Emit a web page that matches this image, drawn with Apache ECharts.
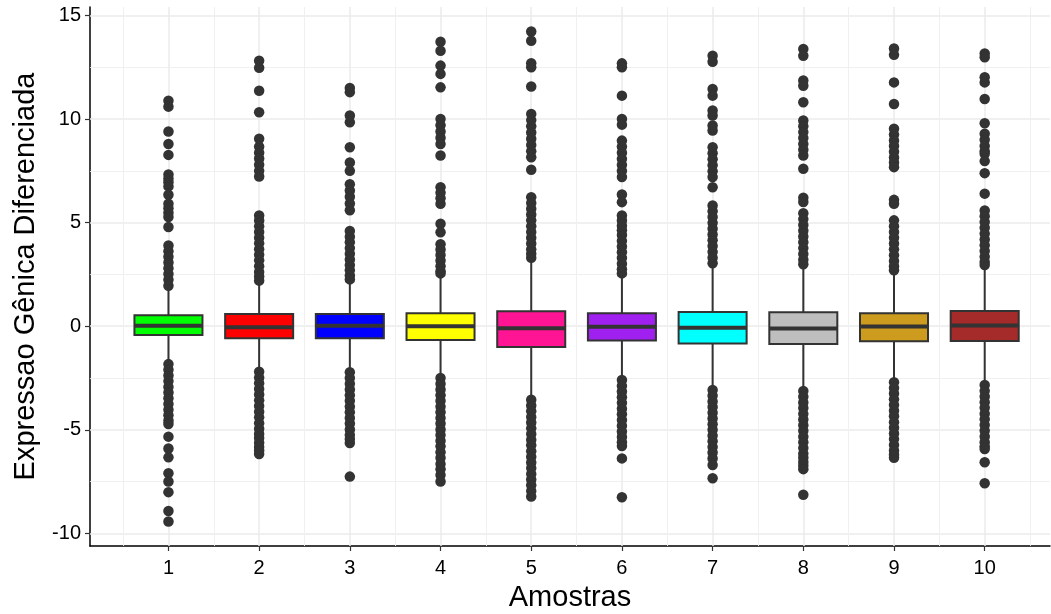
<!DOCTYPE html>
<html>
<head>
<meta charset="utf-8">
<title>Expressao Gênica Diferenciada</title>
<script src="https://cdn.jsdelivr.net/npm/echarts@6/dist/echarts.min.js"></script>
<style>
  html, body { margin: 0; padding: 0; background: #fff; }
  #main { width: 1051px; height: 614px; }
</style>
</head>
<body>
<div id="main"></div>
<script>
// amostras
const categories = ['1', '2', '3', '4', '5', '6', '7', '8', '9', '10']
const boxColors = ['#00FF00', '#FF0000', '#0000FF', '#FFFF00', '#FF1493',
  '#A020F0', '#00FFFF', '#BEBEBE', '#CD9B1D', '#A52A2A']

// estatisticas do boxplot
const lowerWhisker = [-1.75, -2.1, -2.12, -2.4, -3.45, -2.5, -3.0, -3.05, -2.6, -2.75]
const q1 = [-0.42, -0.58, -0.58, -0.67, -1.0, -0.69, -0.83, -0.86, -0.72, -0.71]
const median = [0.02, -0.05, 0.02, 0.0, -0.1, -0.03, -0.08, -0.11, -0.01, 0.03]
const q3 = [0.53, 0.59, 0.59, 0.63, 0.72, 0.63, 0.69, 0.67, 0.63, 0.74]
const upperWhisker = [1.85, 2.1, 2.15, 2.45, 3.2, 2.45, 2.95, 2.9, 2.6, 2.85]

// outliers de cada amostra
const outliers = [
  [10.89, 10.6, 9.4, 8.8, 8.27, 7.33, 7.12, 6.95, 6.75, 6.35, 5.91, 5.7, 5.48, 5.27, 4.79,
    3.9, 3.62, 3.35, 3.08, 2.8, 2.52, 2.24, 1.95,
    -1.83, -2.1, -2.38, -2.65, -2.93, -3.2, -3.48, -3.75, -4.03, -4.3, -4.55, -4.72,
    -5.33, -5.9, -6.33, -7.1, -7.5, -8.01, -8.92, -9.43],
  [12.82, 12.48, 11.37, 10.33, 9.05, 8.67, 8.38, 8.1, 7.8, 7.5, 7.23,
    5.35, 5.1, 4.82, 4.55, 4.27, 4.0, 3.72, 3.45, 3.18, 2.9, 2.62, 2.4, 2.2,
    -2.2, -2.48, -2.75, -3.03, -3.3, -3.58, -3.85, -4.13, -4.4, -4.68, -4.95, -5.2,
    -5.4, -5.62, -5.83, -6.0, -6.17],
  [11.5, 11.3, 10.17, 9.85, 8.64, 7.9, 7.5, 6.85, 6.55, 6.25, 5.92, 5.6,
    4.6, 4.32, 4.05, 3.77, 3.5, 3.22, 2.95, 2.7, 2.45, 2.26,
    -2.22, -2.5, -2.78, -3.05, -3.33, -3.6, -3.88, -4.15, -4.43, -4.7, -4.98, -5.25,
    -5.45, -5.64, -7.26],
  [13.73, 13.3, 12.58, 12.18, 11.53, 10.0, 9.7, 9.4, 9.1, 8.8, 8.24,
    6.71, 6.45, 6.18, 5.91, 4.95, 4.54, 3.96, 3.7, 3.44, 3.17, 2.9, 2.65, 2.55,
    -2.5, -2.78, -3.05, -3.33, -3.6, -3.88, -4.15, -4.43, -4.7, -4.98, -5.25, -5.53,
    -5.8, -6.08, -6.35, -6.65, -6.9, -7.18, -7.5],
  [14.23, 13.78, 12.7, 12.5, 11.57, 10.25, 9.95, 9.65, 9.35, 9.05, 8.75, 8.45, 8.16, 7.55,
    6.23, 5.95, 5.67, 5.39, 5.11, 4.83, 4.55, 4.27, 3.99, 3.71, 3.5, 3.3,
    -3.55, -3.83, -4.1, -4.38, -4.65, -4.93, -5.2, -5.48, -5.75, -6.03, -6.3, -6.58,
    -6.85, -7.13, -7.4, -7.68, -7.95, -8.22],
  [12.69, 12.5, 11.13, 10.0, 9.73, 8.96, 8.67, 8.38, 8.08, 7.79, 7.5, 7.2, 6.36, 5.99,
    5.35, 5.1, 4.85, 4.63, 4.4, 4.12, 3.85, 3.57, 3.3, 3.02, 2.75, 2.55,
    -2.6, -2.88, -3.15, -3.43, -3.7, -3.98, -4.25, -4.53, -4.8, -5.08, -5.35, -5.6,
    -5.78, -6.38, -8.26],
  [13.06, 12.77, 11.45, 11.13, 10.41, 10.17, 9.69, 9.45, 8.64, 8.35, 8.06, 7.77, 7.48, 7.2,
    6.71, 5.83, 5.55, 5.27, 4.99, 4.71, 4.43, 4.15, 3.87, 3.59, 3.31, 3.04,
    -3.08, -3.35, -3.63, -3.9, -4.18, -4.45, -4.73, -5.0, -5.28, -5.55, -5.83, -6.1,
    -6.38, -6.7, -7.34],
  [13.38, 13.06, 11.86, 11.61, 10.81, 9.93, 9.65, 9.37, 9.09, 8.8, 8.52, 8.24, 7.6,
    6.2, 6.0, 5.45, 5.17, 4.89, 4.61, 4.33, 4.05, 3.77, 3.49, 3.21, 2.99,
    -3.13, -3.4, -3.68, -3.95, -4.23, -4.5, -4.78, -5.05, -5.33, -5.6, -5.88, -6.15,
    -6.35, -6.55, -6.72, -6.9, -8.14],
  [13.41, 13.1, 11.77, 10.73, 9.53, 9.25, 8.97, 8.7, 8.42, 8.15, 7.9, 7.68, 6.1, 5.91,
    5.11, 4.83, 4.55, 4.27, 3.99, 3.71, 3.43, 3.15, 2.9, 2.7,
    -2.7, -2.98, -3.25, -3.53, -3.8, -4.08, -4.35, -4.63, -4.9, -5.18, -5.45, -5.73,
    -6.0, -6.2, -6.35],
  [13.17, 12.98, 12.02, 11.77, 10.97, 9.8, 9.29, 9.0, 8.7, 8.45, 8.32, 7.97, 7.39, 6.4,
    5.59, 5.31, 5.03, 4.75, 4.47, 4.19, 3.91, 3.63, 3.35, 3.1, 2.95,
    -2.84, -3.12, -3.39, -3.67, -3.94, -4.22, -4.49, -4.77, -5.04, -5.32, -5.6, -5.8,
    -5.93, -6.57, -7.58]
]

// ticks e linhas de grade
const yTicks = [-10, -5, 0, 5, 10, 15]
const yMinor = [-7.5, -2.5, 2.5, 7.5, 12.5]
const xTicks = [1, 2, 3, 4, 5, 6, 7, 8, 9, 10]
const xMinor = [0.5, 1.5, 2.5, 3.5, 4.5, 5.5, 6.5, 7.5, 8.5, 9.5, 10.5]

const FONT = '"Liberation Sans", Arial, sans-serif'
const BOX_W = 0.75 // largura da caixa, em unidades do eixo x

let chart = echarts.init(document.getElementById('main'), null, {renderer: 'canvas'})

const boxData = categories.map((c, i) => [i + 1, lowerWhisker[i], q1[i], median[i], q3[i], upperWhisker[i]])

let outlierData = []
outliers.forEach((list, i) => {
  list.forEach(v => outlierData.push([i + 1, v]))
})

const gridLines = [
  ...yTicks.map(v => ({yAxis: v, lineStyle: {width: 1.5, color: '#EBEBEB'}})),
  ...yMinor.map(v => ({yAxis: v, lineStyle: {width: 0.9, color: '#EEEEEE'}})),
  ...xTicks.map(v => ({xAxis: v, lineStyle: {width: 1.5, color: '#EBEBEB'}})),
  ...xMinor.map(v => ({xAxis: v, lineStyle: {width: 0.9, color: '#EEEEEE'}}))
]

const renderBox = (params, api) => {
  const x = api.value(0)
  const lo = api.coord([x, api.value(1)])
  const p1 = api.coord([x, api.value(2)])
  const md = api.coord([x, api.value(3)])
  const p3 = api.coord([x, api.value(4)])
  const hi = api.coord([x, api.value(5)])
  const w = api.size([BOX_W, 0])[0]
  const stroke = '#333333'
  return {
    type: 'group',
    children: [
      {type: 'line', shape: {x1: lo[0], y1: lo[1], x2: p1[0], y2: p1[1]}, style: {stroke, lineWidth: 2}},
      {type: 'line', shape: {x1: p3[0], y1: p3[1], x2: hi[0], y2: hi[1]}, style: {stroke, lineWidth: 2}},
      {
        type: 'rect',
        shape: {x: p3[0] - w / 2, y: p3[1], width: w, height: p1[1] - p3[1]},
        style: {fill: boxColors[params.dataIndex], stroke, lineWidth: 2}
      },
      {type: 'line', shape: {x1: md[0] - w / 2, y1: md[1], x2: md[0] + w / 2, y2: md[1]}, style: {stroke, lineWidth: 4}}
    ]
  }
}

const option = {
  animation: false,
  backgroundColor: '#ffffff',
  textStyle: {fontFamily: FONT},
  grid: {left: 90, right: 1, top: 7, bottom: 68, outerBoundsMode: 'none'},
  xAxis: {
    type: 'value',
    min: 0.135,
    max: 10.72,
    name: 'Amostras',
    nameLocation: 'middle',
    nameGap: 37,
    nameTextStyle: {fontSize: 29, color: '#000', fontFamily: FONT},
    axisLine: {show: true, onZero: false, lineStyle: {color: '#000', width: 1.5}},
    axisTick: {show: true, length: 5, customValues: xTicks, lineStyle: {color: '#333', width: 1.2}},
    axisLabel: {
      customValues: xTicks,
      formatter: v => categories[Math.round(v) - 1],
      fontSize: 20,
      color: '#000',
      margin: 12,
      fontFamily: FONT
    },
    splitLine: {show: false}
  },
  yAxis: {
    type: 'value',
    min: -10.61,
    max: 15.41,
    name: 'Expressao Gênica Diferenciada',
    nameLocation: 'middle',
    nameGap: 50,
    nameRotate: 90,
    nameTextStyle: {fontSize: 29, color: '#000', fontFamily: FONT},
    axisLine: {show: true, onZero: false, lineStyle: {color: '#000', width: 1.5}},
    axisTick: {show: true, length: 5, customValues: yTicks, lineStyle: {color: '#333', width: 1.2}},
    axisLabel: {customValues: yTicks, fontSize: 20, color: '#000', margin: 9, fontFamily: FONT},
    splitLine: {show: false}
  },
  series: [
    {
      // so para as linhas de grade
      type: 'line',
      data: [],
      z: 1,
      silent: true,
      markLine: {
        z: 1,
        silent: true,
        symbol: ['none', 'none'],
        label: {show: false},
        emphasis: {disabled: true},
        lineStyle: {type: 'solid'},
        data: gridLines
      }
    },
    {
      type: 'custom',
      z: 3,
      renderItem: renderBox,
      encode: {x: 0, y: [1, 2, 3, 4, 5]},
      data: boxData
    },
    {
      type: 'scatter',
      z: 4,
      symbol: 'circle',
      symbolSize: 10.5,
      itemStyle: {color: '#333333', opacity: 1},
      data: outlierData
    }
  ]
}

chart.setOption(option)
</script>
</body>
</html>
